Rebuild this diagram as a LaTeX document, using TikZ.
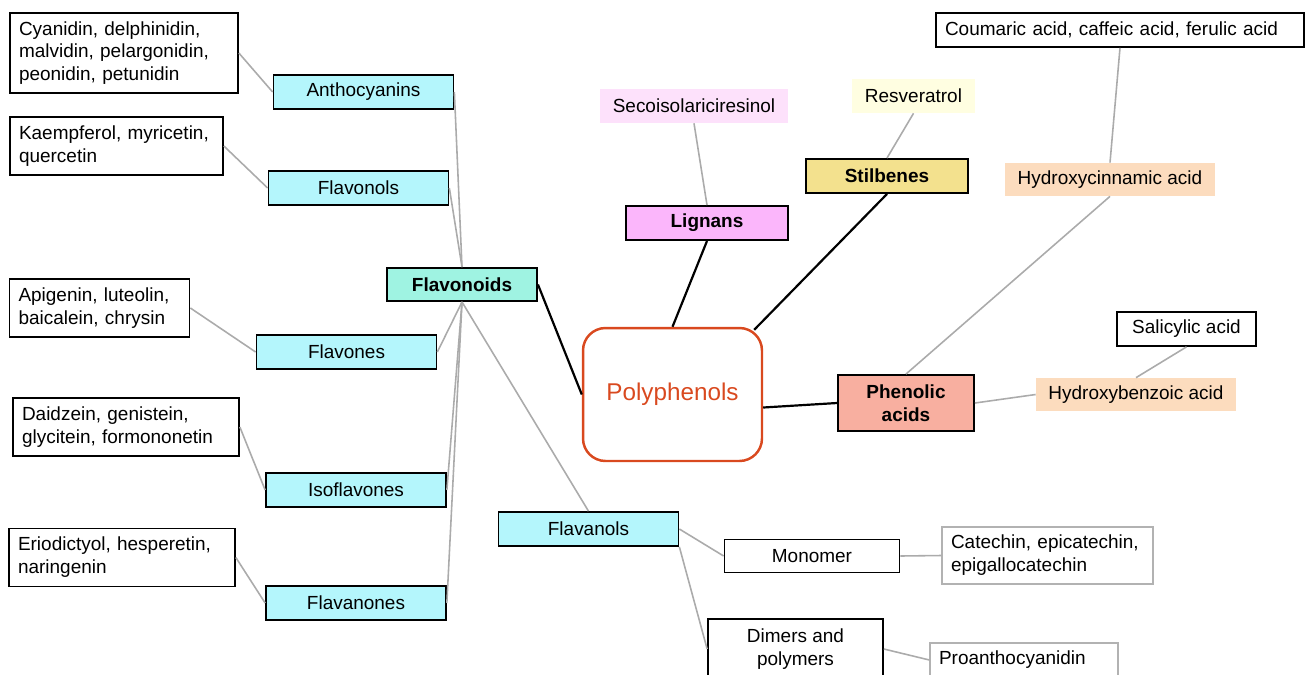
\documentclass[tikz,border=0pt]{standalone}
\usepackage{fontspec}
\setmainfont{Liberation Sans}
\usetikzlibrary{calc}

\definecolor{flavcyan}{HTML}{B4F6FC}
\definecolor{flavaqua}{HTML}{9FF3E2}
\definecolor{lignpink}{HTML}{FBB6FB}
\definecolor{lignlight}{HTML}{FDE1FB}
\definecolor{stilgold}{HTML}{F3E18E}
\definecolor{stillight}{HTML}{FFFEE1}
\definecolor{acidpeach}{HTML}{FCDCBE}
\definecolor{acidsalmon}{HTML}{F8AFA0}
\definecolor{polyred}{HTML}{D9491F}

\tikzset{
  every node/.style={font=\fontsize{10.8}{13}\selectfont, inner sep=0pt},
  listbox/.style={draw, line width=1pt, align=left, inner xsep=0.18cm, minimum height=1.16cm},
  classbox/.style={draw, line width=1pt, fill=flavcyan, minimum width=3.6cm, minimum height=0.68cm},
  groupbox/.style={draw, line width=1.1pt, font=\bfseries\fontsize{10.8}{13}\selectfont, align=center, minimum height=0.68cm},
  tintbox/.style={minimum height=0.68cm},
  greyline/.style={black!33, line width=0.9pt},
  blackline/.style={black, line width=1.25pt}
}

\begin{document}
\begin{tikzpicture}[x=0.02cm, y=-0.02cm]
          \useasboundingbox (0,0) rectangle (1306,674);
          \clip (0,0) rectangle (1306,674);
          \node[listbox, text width=4.2cm, minimum height=1.6cm] (Cyan) at %
          (124,53) {Cyanidin, delphinidin,\\ malvidin, pelargonidin,\\ peonidin, petunidin};
          \node[listbox, text width=3.9cm] (Kaemp) at %
          (116.5,146) {Kaempferol, myricetin,\\ quercetin};
          \node[listbox, text width=3.24cm] (Apig) at %
          (99.5,308) {Apigenin, luteolin,\\ baicalein, chrysin};
          \node[listbox, text width=4.16cm] (Daid) at %
          (126,427) {Daidzein, genistein,\\ glycitein, formononetin};
          \node[listbox, text width=4.16cm] (Erio) at %
          (122,557.5) {Eriodictyol, hesperetin,\\ naringenin};
          \node[classbox] (Antho) at (363.5,92) {Anthocyanins};
          \node[classbox] (Flavonols) at (358.5,188) {Flavonols};
          \node[classbox] (Flavones) at (346.5,352) {Flavones};
          \node[classbox] (Isofl) at (356,490) {Isoflavones};
          \node[classbox] (Flavanones) at (356,603) {Flavanones};
          \node[classbox] (Flavanols) at (588.5,529) {Flavanols};
          \node[groupbox, fill=flavaqua, minimum width=3cm, %
            minimum height=0.66cm] (Flavonoids) at (462,284.5) {Flavonoids};
          \node[draw=polyred, text=polyred, line width=1.4pt, rounded corners=0.45cm, %
            minimum width=3.58cm, minimum height=2.66cm, %
            font=\fontsize{13.8}{16}\selectfont] (Poly) at (672.5,394.5) {Polyphenols};
          \node[groupbox, fill=lignpink, minimum width=3.24cm] (Lignans) at %
          (707,223) {Lignans};
          \node[tintbox, fill=lignlight, minimum width=3.76cm] (Seco) at %
          (694,106) {Secoisolariciresinol};
          \node[groupbox, fill=stilgold, minimum width=3.24cm] (Stil) at %
          (887,176) {Stilbenes};
          \node[tintbox, fill=stillight, minimum width=2.46cm] (Resv) at %
          (913.5,96) {Resveratrol};
          \node[listbox, text width=7cm, minimum height=0.68cm] (Coum) at %
          (1120,30) {Coumaric acid, caffeic acid, ferulic acid};
          \node[tintbox, fill=acidpeach, minimum width=4.2cm, minimum height=0.66cm] (HC) at %
          (1110,179.5) {Hydroxycinnamic acid};
          \node[groupbox, fill=acidsalmon, minimum width=2.72cm, %
            minimum height=1.12cm] (Phen) at (906,403) {Phenolic\\ acids};
          \node[draw, line width=1pt, minimum width=2.78cm, minimum height=0.68cm] (Sal) at %
          (1186.5,329) {Salicylic acid};
          \node[tintbox, fill=acidpeach, minimum width=4cm, minimum height=0.66cm] (HB) at %
          (1136,394.5) {Hydroxybenzoic acid};
          \node[draw, line width=1pt, minimum width=3.5cm, minimum height=0.66cm] (Mono) at %
          (812,556) {Monomer};
          \node[listbox, draw=black!30, line width=0.7pt, text width=3.86cm, %
            minimum height=1.14cm] (Cate) at %
          (1047.5,555.5) {Catechin, epicatechin,\\ epigallocatechin};
          \node[draw, line width=1pt, align=center, minimum width=3.5cm, %
            minimum height=1.2cm] (Dimers) at (795.5,649) {Dimers and\\ polymers};
          \node[listbox, draw=black!30, line width=0.7pt, text width=3.4cm, %
            minimum height=0.68cm] (Proan) at (1024,660) {Proanthocyanidin};
          \draw[greyline] (Cyan.east) -- (Antho.west);
          \draw[greyline] (Kaemp.east) -- (Flavonols.west);
          \draw[greyline] (Apig.east) -- (Flavones.west);
          \draw[greyline] (Daid.east) -- (Isofl.west);
          \draw[greyline] (Erio.east) -- (Flavanones.west);
          \draw[greyline] (Antho.east) -- (Flavonoids.north);
          \draw[greyline] (Flavonols.east) -- (Flavonoids.north);
          \draw[greyline] (Flavonoids.south) -- (Flavones.east);
          \draw[greyline] (Flavonoids.south) -- (Isofl.east);
          \draw[greyline] (Flavonoids.south) -- (Flavanones.east);
          \draw[greyline] (Flavonoids.south) -- (Flavanols.north);
          \draw[greyline] (Flavanols.east) -- (Mono.west);
          \draw[greyline] (Flavanols.south east) -- (Dimers.west);
          \draw[greyline] (Mono.east) -- (Cate.west);
          \draw[greyline] (Dimers.east) -- (Proan.west);
          \draw[greyline] (Seco.south) -- (Lignans.north);
          \draw[greyline] (Resv.south) -- (Stil.north);
          \draw[greyline] (Coum.south) -- (HC.north);
          \draw[greyline] (HC.south) -- (Phen.north);
          \draw[greyline] (Phen.east) -- (HB.west);
          \draw[greyline] (Sal.south) -- (HB.north);
          \draw[blackline] (Flavonoids.east) -- (Poly.west);
          \draw[blackline] (Lignans.south) -- (Poly.north);
          \draw[blackline] (Stil.south) -- ($(Poly.north east)+(-9,3)$);
          \draw[blackline] ($(Poly.east)+(0,13)$) -- (Phen.west);
        \end{tikzpicture}
\end{document}
